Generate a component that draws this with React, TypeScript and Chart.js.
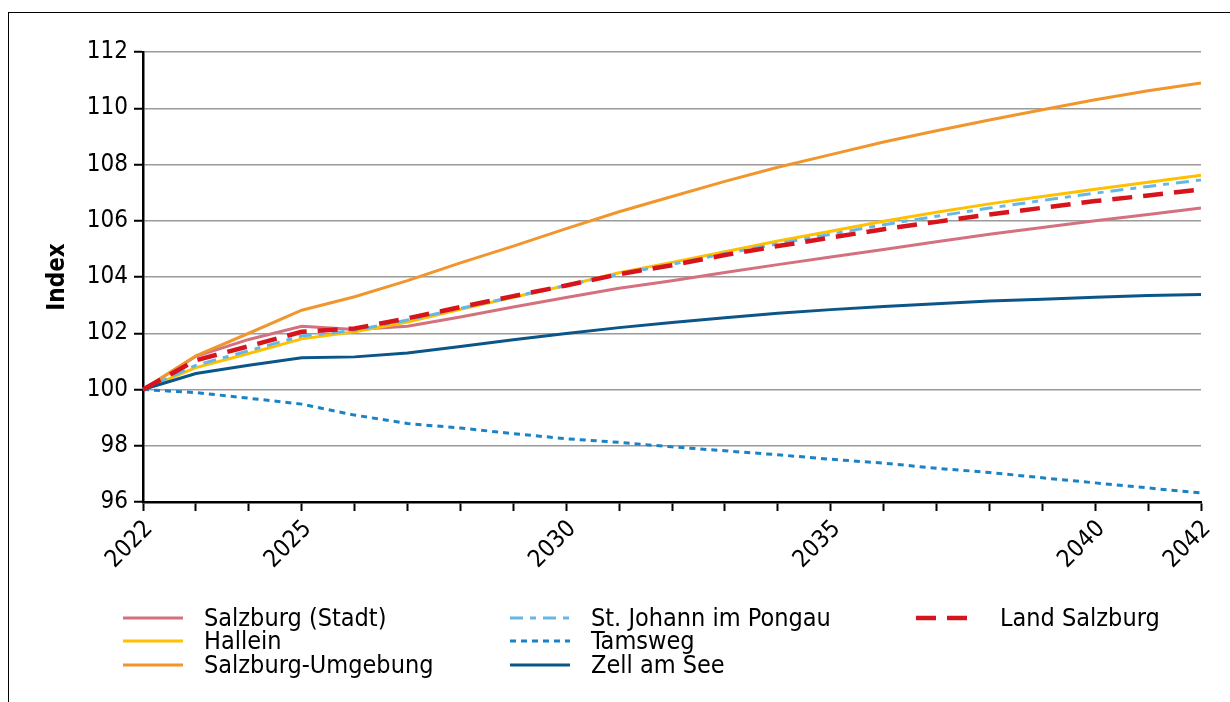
import React, { useEffect, useRef } from "react";
import { Chart, registerables } from "chart.js";

Chart.register(...registerables);

const years = [2022, 2023, 2024, 2025, 2026, 2027, 2028, 2029, 2030, 2031, 2032, 2033, 2034, 2035, 2036, 2037, 2038, 2039, 2040, 2041, 2042];
const shownYears = [2022, 2025, 2030, 2035, 2040, 2042];

const salzburgStadt = [100, 101.18, 101.78, 102.25, 102.13, 102.25, 102.58, 102.93, 103.27, 103.6, 103.87, 104.16, 104.44, 104.71, 104.98, 105.25, 105.52, 105.76, 106.0, 106.22, 106.45];
const hallein = [100, 100.78, 101.28, 101.8, 102.05, 102.4, 102.85, 103.28, 103.7, 104.15, 104.52, 104.9, 105.28, 105.63, 105.98, 106.3, 106.6, 106.86, 107.12, 107.37, 107.62];
const salzburgUmgebung = [100, 101.2, 102.0, 102.82, 103.3, 103.87, 104.5, 105.1, 105.72, 106.32, 106.86, 107.4, 107.9, 108.35, 108.8, 109.2, 109.58, 109.95, 110.3, 110.62, 110.9];
const stJohann = [100, 100.86, 101.38, 101.9, 102.1, 102.47, 102.88, 103.3, 103.7, 104.1, 104.45, 104.83, 105.18, 105.52, 105.86, 106.16, 106.45, 106.72, 106.98, 107.22, 107.45];
const tamsweg = [100, 99.89, 99.69, 99.48, 99.09, 98.79, 98.63, 98.43, 98.25, 98.12, 97.96, 97.82, 97.68, 97.52, 97.38, 97.2, 97.05, 96.86, 96.68, 96.5, 96.32];
const zellAmSee = [100, 100.57, 100.86, 101.13, 101.16, 101.3, 101.53, 101.77, 101.99, 102.2, 102.38, 102.55, 102.71, 102.84, 102.95, 103.05, 103.15, 103.21, 103.28, 103.34, 103.38];
const landSalzburg = [100, 101.04, 101.54, 102.05, 102.17, 102.53, 102.93, 103.32, 103.7, 104.1, 104.42, 104.78, 105.1, 105.4, 105.7, 105.96, 106.22, 106.46, 106.7, 106.9, 107.11];

const FONT = "'DejaVu Sans Condensed', 'DejaVu Sans', sans-serif";

type Series = {
  label: string;
  data: number[];
  color: string;
  width: number;
  dash: number[];
  order: number;
  col: number;
  row: number;
};

const series: Series[] = [
  { label: "Salzburg (Stadt)", data: salzburgStadt, color: "#D4717F", width: 3, dash: [], order: 6, col: 0, row: 0 },
  { label: "Hallein", data: hallein, color: "#FFC000", width: 3, dash: [], order: 5, col: 0, row: 1 },
  { label: "Salzburg-Umgebung", data: salzburgUmgebung, color: "#F0962D", width: 3, dash: [], order: 4, col: 0, row: 2 },
  { label: "St. Johann im Pongau", data: stJohann, color: "#63B8E8", width: 3, dash: [13, 7, 6, 7], order: 3, col: 1, row: 0 },
  { label: "Tamsweg", data: tamsweg, color: "#1B82C5", width: 3, dash: [6, 5], order: 2, col: 1, row: 1 },
  { label: "Zell am See", data: zellAmSee, color: "#0B5689", width: 3, dash: [], order: 1, col: 1, row: 2 },
  { label: "Land Salzburg", data: landSalzburg, color: "#D7141C", width: 4.5, dash: [20, 11], order: 0, col: 2, row: 0 },
];

const colLine = [123, 510, 916];
const colText = [204, 591, 1000];
const rowY = [618, 641, 665];

function LegendLine({ s }: { s: Series }) {
  return (
    <svg width={62} height={10} style={{ position: "absolute", left: colLine[s.col], top: rowY[s.row] - 5 }}>
      <line x1={0} y1={5} x2={60} y2={5} stroke={s.color} strokeWidth={s.width} strokeDasharray={s.dash.length ? s.dash.join(",") : undefined} />
    </svg>
  );
}

export default function App() {
  const ref = useRef<HTMLCanvasElement | null>(null);

  useEffect(() => {
    if (!ref.current) return;
    const chart = new Chart(ref.current, {
      type: "line",
      data: {
        labels: years.map(String),
        datasets: series.map((s) => ({
          label: s.label,
          data: s.data,
          borderColor: s.color,
          backgroundColor: s.color,
          borderWidth: s.width,
          borderDash: s.dash,
          pointRadius: 0,
          tension: 0,
          fill: false,
          order: s.order,
        })),
      },
      options: {
        responsive: false,
        animation: false,
        events: [],
        layout: { padding: { left: 0, top: 52, right: 29, bottom: 0 } },
        plugins: {
          legend: { display: false },
          tooltip: { enabled: false },
        },
        scales: {
          x: {
            type: "category",
            offset: false,
            grid: {
              display: true,
              drawOnChartArea: false,
              drawTicks: true,
              tickLength: 9,
              tickColor: "#000",
              tickWidth: 2,
            },
            border: { display: true, color: "#000", width: 2.5 },
            ticks: {
              autoSkip: false,
              maxRotation: 45,
              minRotation: 45,
              padding: 4,
              labelOffset: 6,
              color: "#000",
              font: { family: FONT, size: 24 },
              callback: (_v: any, i: number) => (shownYears.includes(years[i]) ? String(years[i]) : ""),
            },
            afterFit: (scale: any) => {
              scale.height = 98;
            },
          },
          y: {
            min: 96,
            max: 112,
            ticks: {
              stepSize: 2,
              padding: 6,
              color: "#000",
              font: { family: FONT, size: 24 },
            },
            grid: {
              color: "#9a9a9a",
              lineWidth: 1.5,
              drawTicks: true,
              tickLength: 9,
              tickColor: "#000",
              tickWidth: 2,
            },
            border: { display: true, color: "#000", width: 2.5 },
            title: {
              display: true,
              text: "Index",
              color: "#000",
              font: { family: FONT, size: 24, weight: "bold" },
              padding: { top: 43, bottom: 0 },
            },
            afterFit: (scale: any) => {
              scale.width = 143;
            },
          },
        },
      },
    });
    return () => chart.destroy();
  }, []);

  return (
    <div>
      <div
        style={{
          position: "fixed",
          left: 8,
          top: 12,
          width: 1222,
          height: 690,
          borderLeft: "1px solid #000",
          borderTop: "1px solid #000",
          boxSizing: "border-box",
        }}
      />
      <canvas ref={ref} width={1230} height={600} style={{ position: "fixed", left: 0, top: 0, width: 1230, height: 600 }} />
      {series.map((s) => (
        <React.Fragment key={s.label}>
          <LegendLine s={s} />
          <div
            style={{
              position: "absolute",
              left: colText[s.col],
              top: rowY[s.row] - 12,
              height: 23,
              lineHeight: "23px",
              fontFamily: FONT,
              fontSize: 25,
              color: "#000",
              whiteSpace: "nowrap",
            }}
          >
            {s.label}
          </div>
        </React.Fragment>
      ))}
    </div>
  );
}
